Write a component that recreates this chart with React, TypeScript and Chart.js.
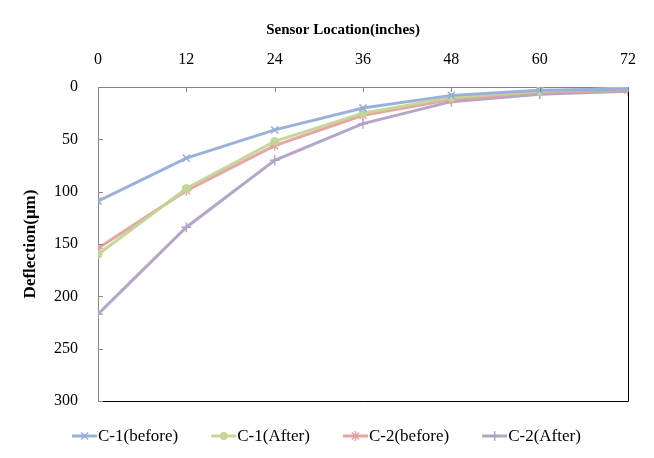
import React, { useEffect, useRef } from "react";
import { Chart, registerables } from "chart.js";

Chart.register(...registerables);

const sensorLocations = [0, 12, 24, 36, 48, 60, 72];
const c1Before = [109, 68, 41, 20, 8, 3, 2];
const c1After = [160, 97, 52, 25, 10, 4, 1];
const c2Before = [154, 99, 56, 27, 12, 5, 3];
const c2After = [217, 134, 70, 35, 14, 7, 4];
const seriesLabels = ["C-1(before)", "C-1(After)", "C-2(before)", "C-2(After)"];
const xTitle = "Sensor Location(inches)";
const yTitle = "Deflection(\u03bcm)";

const colors = [
  "rgba(149,174,216,0.95)",
  "rgba(194,214,150,0.95)",
  "rgba(229,160,158,0.95)",
  "rgba(176,160,198,0.95)",
];
const pointStyles = ["crossRot", "circle", "star", "cross"] as const;

const FONT = "'Liberation Serif', 'Times New Roman', serif";

function drawMarker(ctx: CanvasRenderingContext2D, style: string, x: number, y: number, r: number, color: string) {
  ctx.save();
  ctx.strokeStyle = color;
  ctx.fillStyle = color;
  ctx.lineWidth = 1.5;
  ctx.beginPath();
  if (style === "circle") {
    ctx.arc(x, y, r, 0, Math.PI * 2);
    ctx.fill();
  } else {
    const d = r * Math.SQRT1_2;
    if (style === "crossRot" || style === "star") {
      ctx.moveTo(x - d, y - d); ctx.lineTo(x + d, y + d);
      ctx.moveTo(x - d, y + d); ctx.lineTo(x + d, y - d);
    }
    if (style === "cross" || style === "star") {
      ctx.moveTo(x, y - r); ctx.lineTo(x, y + r);
      ctx.moveTo(x - r, y); ctx.lineTo(x + r, y);
    }
    ctx.stroke();
  }
  ctx.restore();
}

export default function App() {
  const ref = useRef<HTMLCanvasElement | null>(null);

  useEffect(() => {
    if (!ref.current) return;
    const seriesValues = [c1Before, c1After, c2Before, c2After];
    const datasets = seriesValues.map((vals, i) => ({
      label: seriesLabels[i],
      data: vals.map((v, j) => ({ x: sensorLocations[j], y: v })),
      borderColor: colors[i],
      backgroundColor: colors[i],
      borderWidth: 3,
      pointStyle: pointStyles[i] as any,
      pointRadius: i === 1 ? 4 : 5,
      pointBorderWidth: i === 1 ? 1 : 1.5,
      pointBorderColor: colors[i],
      pointBackgroundColor: colors[i],
      tension: 0,
    }));

    const decor = {
      id: "decor",
      afterDraw(chart: any) {
        const ctx = chart.ctx;
        const a = chart.chartArea;
        const xs = chart.scales.x;
        const ys = chart.scales.y;
        ctx.save();
        ctx.strokeStyle = "#000";
        ctx.lineWidth = 1;
        ctx.beginPath();
        ctx.moveTo(Math.round(a.right) + 0.5, a.top);
        ctx.lineTo(Math.round(a.right) + 0.5, Math.round(a.bottom) + 0.5);
        ctx.lineTo(a.left, Math.round(a.bottom) + 0.5);
        ctx.stroke();
        ctx.strokeStyle = "#868686";
        ctx.beginPath();
        xs.ticks.forEach((t: any) => {
          const px = Math.round(xs.getPixelForValue(t.value)) + 0.5;
          ctx.moveTo(px, a.top);
          ctx.lineTo(px, a.top + 5);
        });
        ys.ticks.forEach((t: any) => {
          const py = Math.round(ys.getPixelForValue(t.value)) + 0.5;
          ctx.moveTo(a.left, py);
          ctx.lineTo(a.left + 5, py);
        });
        ctx.stroke();
        ctx.fillStyle = "#000";
        ctx.font = `bold 15px ${FONT}`;
        ctx.textAlign = "center";
        ctx.textBaseline = "middle";
        ctx.fillText(xTitle, 343, 30);
        ctx.font = `17px ${FONT}`;
        ctx.textAlign = "left";
        let x = 72;
        const y = 436;
        chart.data.datasets.forEach((ds: any, i: number) => {
          ctx.strokeStyle = colors[i];
          ctx.lineWidth = 3;
          ctx.beginPath();
          ctx.moveTo(x, y);
          ctx.lineTo(x + 25, y);
          ctx.stroke();
          drawMarker(ctx, pointStyles[i], x + 12.5, y, i === 1 ? 4 : 5, colors[i]);
          ctx.fillStyle = "#000";
          ctx.fillText(ds.label, x + 26, y + 1);
          x += 26 + ctx.measureText(ds.label).width + 33;
        });
        ctx.restore();
      },
    };

    const chart = new Chart(ref.current, {
      type: "line",
      data: { datasets: datasets as any },
      options: {
        animation: false,
        responsive: false,
        maintainAspectRatio: false,
        layout: { padding: { left: 20, right: 25, top: 0, bottom: 57 } },
        plugins: { legend: { display: false }, tooltip: { enabled: false } },
        scales: {
          x: {
            type: "linear",
            position: "top",
            min: 0,
            max: 72,
            ticks: {
              stepSize: 12,
              padding: 18,
              color: "#000",
              font: { family: FONT, size: 16 },
            },
            grid: { display: true, drawOnChartArea: false, drawTicks: false },
            border: { color: "#868686", width: 1 },
            afterFit(scale: any) {
              scale.height = 87;
            },
          },
          y: {
            type: "linear",
            reverse: true,
            min: 0,
            max: 300,
            ticks: {
              stepSize: 50,
              padding: 20,
              color: "#000",
              font: { family: FONT, size: 16 },
            },
            title: {
              display: true,
              text: yTitle,
              color: "#000",
              font: { family: FONT, size: 17, weight: "bold" },
              padding: { top: 0, bottom: 8 },
            },
            grid: { display: true, drawOnChartArea: false, drawTicks: false },
            border: { color: "#868686", width: 1 },
            afterFit(scale: any) {
              scale.width = 78;
            },
          },
        },
      },
      plugins: [decor],
    });
    return () => chart.destroy();
  }, []);

  return (
    <div style={{ position: "fixed", left: 0, top: 0, width: 654, height: 458, background: "#fff" }}>
      <canvas ref={ref} width={654} height={458} style={{ width: 654, height: 458 }} />
    </div>
  );
}
